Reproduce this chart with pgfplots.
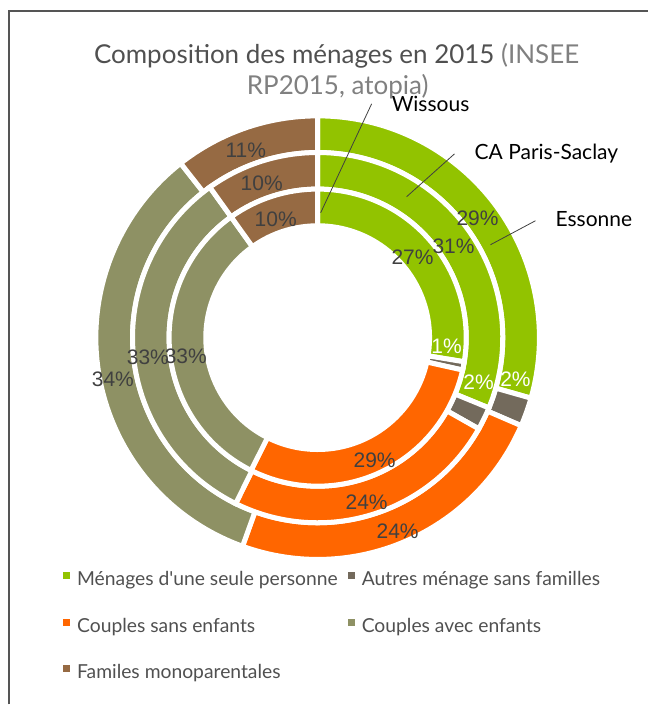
\documentclass[border=0pt]{standalone}
\usepackage{pgfplots}
\pgfplotsset{compat=1.18}
\usepackage{pgfplotstable}
\usepackage{fontspec}
\setmainfont{Lato}
\newfontfamily\arial{Liberation Sans}

\definecolor{slice0}{RGB}{146,195,0}   % Menages d'une seule personne
\definecolor{slice1}{RGB}{115,106,92}  % Autres menages
\definecolor{slice2}{RGB}{255,102,0}   % Couples sans enfants
\definecolor{slice3}{RGB}{142,145,100} % Couples avec enfants
\definecolor{slice4}{RGB}{150,106,67}  % Familles monoparentales
\definecolor{lbl}{RGB}{64,64,64}
\definecolor{titlegray}{RGB}{80,80,80}
\definecolor{subgray}{RGB}{128,128,128}
\definecolor{framegray}{RGB}{85,85,85}

% shares in %, one column per ring (outer to inner)
\pgfplotstableread{
cat essonne saclay wissous
0   29.4    31.2   27.6
1   2.1     2.0    0.9
2   24.0    24.1   28.9
3   33.9    32.8   32.7
4   10.6    9.9    9.9
}\parts

\def\cx{318}\def\cy{367}

% #1 column, #2 outer radius, #3 inner radius
\newcommand{\ring}[3]{%
  \def\cum{0}%
  \pgfplotsforeachungrouped \i in {0,...,4}{%
    \pgfplotstablegetelem{\i}{#1}\of\parts
    \pgfmathsetmacro\ta{90-3.6*\cum}%
    \pgfmathsetmacro\cum{\cum+\pgfplotsretval}%
    \pgfmathsetmacro\tb{90-3.6*\cum}%
    \pgfmathsetmacro\xa{\cx+#2*cos(\ta)}%
    \pgfmathsetmacro\ya{\cy+#2*sin(\ta)}%
    \pgfmathsetmacro\xb{\cx+#3*cos(\tb)}%
    \pgfmathsetmacro\yb{\cy+#3*sin(\tb)}%
    \edef\temp{\noexpand\path[fill=slice\i, draw=white, line width=5pt]
      (axis cs:\xa,\ya) arc[start angle=\ta, end angle=\tb, radius=#2pt]
      -- (axis cs:\xb,\yb) arc[start angle=\tb, end angle=\ta, radius=#3pt] -- cycle;}%
    \temp
  }%
}

\begin{document}
\begin{tikzpicture}
\begin{axis}[
    x=1pt, y=1pt,
    xmin=0, xmax=649, ymin=0, ymax=705,
    hide axis, clip=false,
    legend columns=2,
    legend cell align=left,
    legend image code/.code={\fill[#1, draw=none] (0pt,2pt) rectangle (7pt,9pt);},
    legend style={draw=none, fill=none, inner sep=0pt,
        at={(axis cs:63,133)}, anchor=north west,
        font=\fontsize{19.3}{19.3}\selectfont, text=titlegray,
        row sep=29.5pt,
        nodes={inner sep=0pt, text height=13pt, text depth=4pt},
        /tikz/every odd column/.append style={column sep=7pt},
        /tikz/every even column/.append style={column sep=10pt}},
]
\path (axis cs:0,0) rectangle (axis cs:649,705);
\draw[framegray, line width=1.5pt] (axis cs:9,0) -- (axis cs:9,694) -- (axis cs:649,694);

\ring{essonne}{222}{185.3}
\ring{saclay}{185.3}{148.7}
\ring{wissous}{148.7}{112}

\addlegendimage{fill=slice0, draw=none}\addlegendentry{Ménages d\textquotesingle une seule personne}
\addlegendimage{fill=slice1, draw=none}\addlegendentry{Autres ménage sans familles}
\addlegendimage{fill=slice2, draw=none}\addlegendentry{Couples sans enfants}
\addlegendimage{fill=slice3, draw=none}\addlegendentry{Couples avec enfants}
\addlegendimage{fill=slice4, draw=none}\addlegendentry{Familes monoparentales}

% title
\node[anchor=base, font=\fontsize{26}{26}\selectfont] at (axis cs:337,641)
  {\textcolor{titlegray}{Composition des ménages en 2015} \textcolor{subgray}{(INSEE}};
\node[anchor=base, font=\fontsize{26}{26}\selectfont, text=subgray] at (axis cs:338,610)
  {RP2015, atopia)};

% data labels
\begin{scope}[every node/.style={font=\arial\fontsize{21}{21}\selectfont, text=lbl, inner sep=0pt}]
\node at (axis cs:478,486) {29\%};
\node[text=white] at (axis cs:516,325) {2\%};
\node at (axis cs:398,173) {24\%};
\node at (axis cs:113,325) {34\%};
\node at (axis cs:246,555) {11\%};
\node at (axis cs:454,458) {31\%};
\node[text=white] at (axis cs:479,322) {2\%};
\node at (axis cs:367,202) {24\%};
\node at (axis cs:148,347) {33\%};
\node at (axis cs:262,522) {10\%};
\node at (axis cs:413,447) {27\%};
\node[text=white] at (axis cs:447,358) {1\%};
\node at (axis cs:375,244) {29\%};
\node at (axis cs:186,348) {33\%};
\node at (axis cs:276,485) {10\%};
\end{scope}

% ring names
\draw[lbl, line width=0.8pt] (axis cs:372,601) -- (axis cs:321,492);
\draw[lbl, line width=0.8pt] (axis cs:455,551) -- (axis cs:407,508);
\draw[lbl, line width=0.8pt] (axis cs:536,484) -- (axis cs:491,460);
\begin{scope}[every node/.style={font=\fontsize{21}{21}\selectfont, text=black, anchor=base west, inner sep=0pt}]
\node at (axis cs:392,593) {Wissous};
\node at (axis cs:475,545) {CA Paris-Saclay};
\node at (axis cs:556,478) {Essonne};
\end{scope}
\end{axis}
\end{tikzpicture}
\end{document}
